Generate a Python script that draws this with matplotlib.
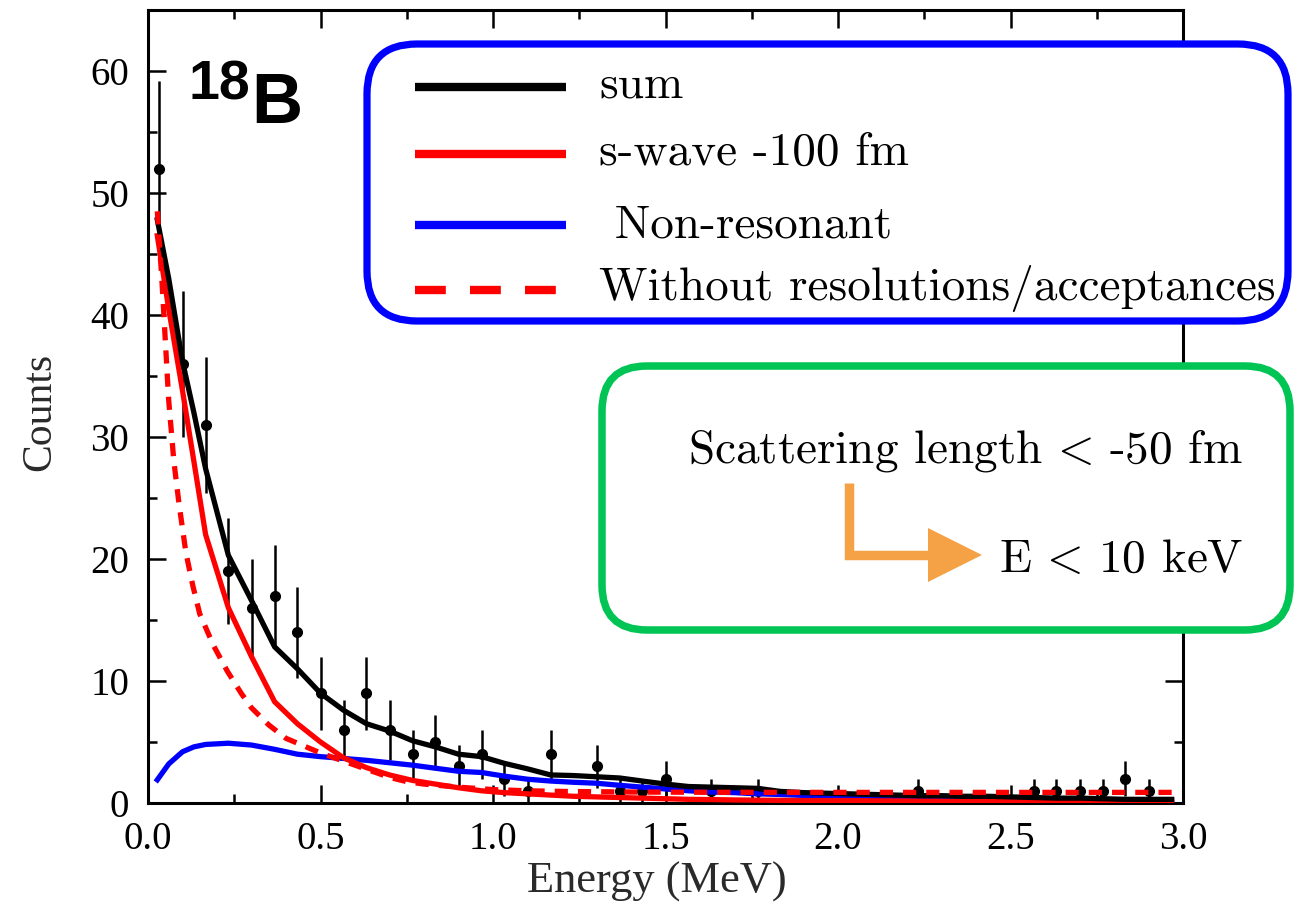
import numpy as np
import matplotlib
matplotlib.use("Agg")
import matplotlib.pyplot as plt
from matplotlib.patches import FancyBboxPatch, Polygon
from matplotlib.lines import Line2D
from matplotlib.ticker import MultipleLocator, FormatStrFormatter

plt.rcParams['mathtext.fontset'] = 'cm'

# ---------------- data ----------------
# measured counts (bin centres, MeV) and counts; errors are sqrt(N)
data_E = [0.033, 0.100, 0.167, 0.233, 0.300, 0.367, 0.433, 0.500, 0.567, 0.633,
          0.700, 0.767, 0.833, 0.900, 0.967, 1.033, 1.100, 1.167, 1.300, 1.367,
          1.433, 1.500, 1.633, 1.767, 2.233, 2.567, 2.633, 2.700, 2.767, 2.833, 2.900]
data_N = [52, 36, 31, 19, 16, 17, 14, 9, 6, 9,
          6, 4, 5, 3, 4, 2, 1, 4, 3, 1,
          1, 2, 1, 1, 1, 1, 1, 1, 1, 2, 1]

# model curves on the bin-centre grid
curve_E = [0.027, 0.060, 0.100, 0.133, 0.167, 0.233, 0.300, 0.367, 0.433, 0.500, 0.567, 0.633,
           0.700, 0.767, 0.833, 0.900, 0.967, 1.033, 1.100, 1.167, 1.233, 1.300,
           1.367, 1.433, 1.500, 1.567, 1.633, 1.700, 1.767, 1.833, 1.900, 1.967,
           2.033, 2.100, 2.167, 2.233, 2.300, 2.367, 2.433, 2.500, 2.567, 2.633,
           2.700, 2.767, 2.833, 2.900, 2.967]
sum_curve = [47.8, 43.0, 36.2, 32.0, 27.4, 20.3, 16.6, 12.8, 11.0, 9.0, 7.6, 6.5,
             5.9, 5.1, 4.6, 4.0, 3.8, 3.25, 2.8, 2.3, 2.25, 2.15,
             2.05, 1.8, 1.55, 1.35, 1.3, 1.25, 1.2, 0.95, 0.85, 0.8,
             0.75, 0.7, 0.65, 0.6, 0.6, 0.55, 0.55, 0.5, 0.45, 0.4,
             0.4, 0.35, 0.3, 0.3, 0.3]
swave_curve = [46.5, 40.5, 33.8, 28.0, 22.0, 16.0, 12.0, 8.3, 6.5, 5.0, 3.7, 2.9,
               2.3, 1.85, 1.55, 1.25, 1.0, 0.85, 0.75, 0.65, 0.55, 0.5,
               0.45, 0.4, 0.35, 0.3, 0.28, 0.25, 0.23, 0.22, 0.2, 0.2,
               0.2, 0.18, 0.17, 0.16, 0.15, 0.14, 0.13, 0.12, 0.11, 0.1,
               0.09, 0.08, 0.07, 0.06, 0.05]
nonres_curve = [1.9, 3.2, 4.2, 4.6, 4.8, 4.9, 4.75, 4.4, 4.0, 3.8, 3.65, 3.5,
                3.3, 3.1, 2.85, 2.6, 2.5, 2.2, 1.95, 1.8, 1.7, 1.62,
                1.45, 1.3, 1.15, 1.0, 0.9, 0.85, 0.75, 0.7, 0.62, 0.58,
                0.55, 0.52, 0.5, 0.47, 0.45, 0.42, 0.4, 0.38, 0.35, 0.33,
                0.3, 0.28, 0.26, 0.24, 0.22]

# "without resolutions/acceptances" curve
nores_E = [0.027, 0.04, 0.05, 0.06, 0.075, 0.09, 0.11, 0.13, 0.15, 0.19,
           0.23, 0.27, 0.30, 0.35, 0.40, 0.45, 0.50, 0.55, 0.60, 0.65,
           0.70, 0.75, 0.80, 0.90, 1.00, 1.10, 1.20, 1.40, 1.60, 2.00,
           2.50, 2.97]
nores_curve = [48.5, 43, 38, 33, 28, 24.5, 20.5, 17.8, 15.5, 12.9,
               10.8, 9.0, 7.8, 6.4, 5.3, 4.7, 4.1, 3.6, 3.1, 2.6,
               2.1, 1.75, 1.55, 1.3, 1.1, 1.0, 0.95, 0.9, 0.88, 0.87,
               0.87, 0.87]

legend_labels = ["sum", "s-wave -100 fm", " Non-resonant",
                 "Without resolutions/acceptances"]

x_ticks = [0.0, 0.5, 1.0, 1.5, 2.0, 2.5, 3.0]
y_ticks = [0, 10, 20, 30, 40, 50, 60]

# ---------------- figure ----------------
W, H = 1296, 919
fig = plt.figure(figsize=(W / 100, H / 100), dpi=100)
ax = fig.add_axes([148 / W, 1 - 803 / H, (1183 - 148) / W, (803 - 10) / H])

def fx(x):
    return x / W

def fy(y):
    return 1 - y / H

def inch(x, y):
    return (x / 100, (H - y) / 100)

BLUE = '#0000ff'
RED = '#ff0000'

ax.errorbar(data_E, data_N, yerr=np.sqrt(data_N), fmt='o', color='k',
            ms=7, elinewidth=1.8, capsize=0, zorder=2)
ax.plot(curve_E, nonres_curve, color=BLUE, lw=3.8, zorder=3)
ax.plot(curve_E, swave_curve, color=RED, lw=3.8, zorder=4)
ax.plot(curve_E, sum_curve, color='k', lw=3.8, zorder=5)
ax.plot(nores_E, nores_curve, color=RED, lw=3.8, dashes=(2.5, 1.9), zorder=6)

ax.set_xlim(0, 3.0)
ax.set_ylim(0, 65)
ax.set_xticks(x_ticks)
ax.set_yticks(y_ticks)
ax.xaxis.set_minor_locator(MultipleLocator(0.25))
ax.yaxis.set_minor_locator(MultipleLocator(5))
ax.xaxis.set_major_formatter(FormatStrFormatter('%.1f'))
ax.tick_params(which='both', direction='in', top=True, right=True, width=1.8)
ax.tick_params(which='major', length=13)
ax.tick_params(which='minor', length=6.5)
ax.tick_params(axis='x', which='major', pad=13)
ax.tick_params(axis='y', which='major', pad=13.5)
for lab in ax.get_xticklabels() + ax.get_yticklabels():
    lab.set_fontfamily('Liberation Serif')
    lab.set_fontsize(28)
for sp in ax.spines.values():
    sp.set_linewidth(2.2)

# axis labels
fig.text(fx(657), fy(882), "Energy (MeV)", ha='center', va='center',
         family='Liberation Serif', fontsize=32, color='#2a2a2a')
fig.text(fx(40), fy(412), "Counts", ha='center', va='center', rotation=90,
         family='Liberation Serif', fontsize=30, color='#2a2a2a')

# 18B label
fig.text(fx(188), fy(100), "18", ha='left', va='baseline',
         family='Liberation Sans', weight='bold', fontsize=40)
fig.text(fx(251), fy(123), "B", ha='left', va='baseline',
         family='Liberation Sans', weight='bold', fontsize=51)

# legend box (blue, rounded)
x0, y0 = inch(367, 321)
x1, y1 = inch(1288, 44)
fig.add_artist(FancyBboxPatch((x0, y0), x1 - x0, y1 - y0,
                              boxstyle="round,pad=0,rounding_size=0.5",
                              transform=fig.dpi_scale_trans, facecolor='white',
                              edgecolor=BLUE, linewidth=5.2, zorder=10))
leg_styles = [dict(color='k'), dict(color=RED), dict(color=BLUE),
              dict(color=RED, dashes=(3.7, 2.9))]
leg_line_y = [87, 154, 225, 290]
leg_text_y = [98, 165, 237, 300]
for lab, st, ly, ty in zip(legend_labels, leg_styles, leg_line_y, leg_text_y):
    la, lb = inch(415, ly), inch(558 if 'dashes' in st else 566, ly)
    fig.add_artist(Line2D([la[0], lb[0]], [la[1], lb[1]],
                          transform=fig.dpi_scale_trans, lw=6,
                          solid_capstyle='butt', dash_capstyle='butt',
                          zorder=11, **st))
    fig.text(fx(599), fy(ty), lab, ha='left', va='baseline',
             family='cmr10', fontsize=34, zorder=11)

# green annotation box
gx0, gy0 = inch(602, 630)
gx1, gy1 = inch(1290, 366)
fig.add_artist(FancyBboxPatch((gx0, gy0), gx1 - gx0, gy1 - gy0,
                              boxstyle="round,pad=0,rounding_size=0.45",
                              transform=fig.dpi_scale_trans, facecolor='white',
                              edgecolor='#00c454', linewidth=5.4, zorder=10))
fig.text(fx(1243), fy(463), r"Scattering length$\,<\,$-50 fm", ha='right',
         va='baseline', family='cmr10', fontsize=34, zorder=11)
fig.text(fx(1243), fy(572), r"E$\,<\,$10 keV", ha='right',
         va='baseline', family='cmr10', fontsize=34, zorder=11)

ORANGE = '#f5a145'
p0, p1, p2 = inch(849, 483), inch(849, 555), inch(932, 555)
fig.add_artist(Line2D([p0[0], p1[0], p2[0]], [p0[1], p1[1], p2[1]],
                      transform=fig.dpi_scale_trans, lw=6.8, color=ORANGE,
                      solid_joinstyle='miter', solid_capstyle='butt', zorder=11))
fig.add_artist(Polygon([inch(928, 528), inch(982, 555), inch(928, 582)],
                       closed=True, transform=fig.dpi_scale_trans,
                       facecolor=ORANGE, edgecolor='none', zorder=11))

fig.savefig("out.png", dpi=100)
